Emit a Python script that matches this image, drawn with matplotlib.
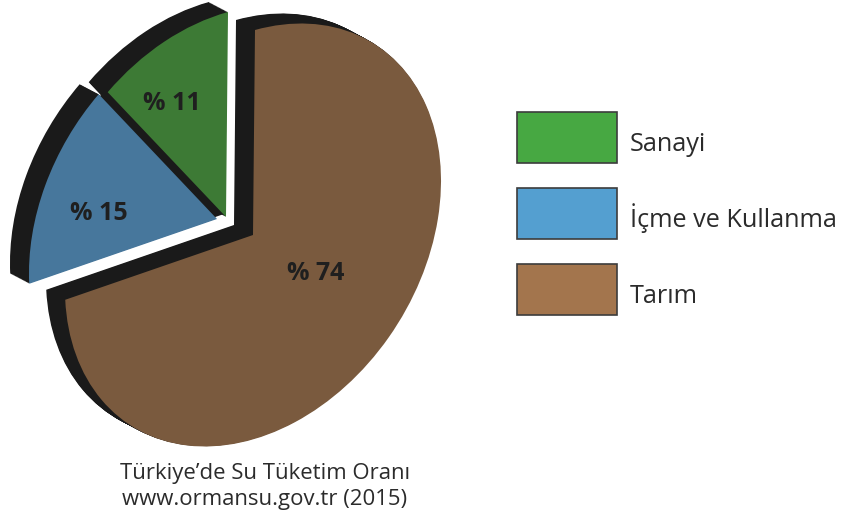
import matplotlib
matplotlib.use("Agg")
import matplotlib.pyplot as plt
from matplotlib.patches import Patch
from matplotlib.transforms import Affine2D

# Data
categories = ["Tarım", "İçme ve Kullanma", "Sanayi"]
values = [74, 15, 11]
legend_order = ["Sanayi", "İçme ve Kullanma", "Tarım"]
caption = ["Türkiye’de Su Tüketim Oranı", "www.ormansu.gov.tr (2015)"]

# Style / layout
slice_colors = {"Tarım": "#7a5a3e", "İçme ve Kullanma": "#47779c", "Sanayi": "#3d7a35"}
legend_colors = {"Tarım": "#a3754d", "İçme ve Kullanma": "#549fd0", "Sanayi": "#47a842"}
vertex = {"Tarım": (253, 235), "İçme ve Kullanma": (217, 219), "Sanayi": (226, 217)}
label_xy = {"Tarım": (316, 274), "İçme ve Kullanma": (99, 214), "Sanayi": (172, 103)}
shear = (188, 2, 52, 205)      # maps the round pie onto the tilted disc
depth = (-19, -10)             # direction of the black rim, in pixels
divider = (7, -5)              # black seam between the blue and green slices
BLACK = "#1a1a1a"
TEXT = "#2b2b2b"
FONT = "Open Sans"

fig = plt.figure(figsize=(8.41, 5.21), dpi=100, facecolor="white")
ax = fig.add_axes([0, 0, 1, 1])


def tilt(cat, dx=0.0, dy=0.0):
    a, b, c, d = shear
    vx, vy = vertex[cat]
    m = [[a, b, vx + dx], [-c, -d, vy + dy], [0, 0, 1]]
    return Affine2D(m) + ax.transData


def draw(colors, dx=0.0, dy=0.0, z=1):
    wedges, _ = ax.pie(values, startangle=90, counterclock=False, colors=colors,
                       wedgeprops=dict(linewidth=0))
    for w, cat in zip(wedges, categories):
        w.set_transform(tilt(cat, dx, dy))
        w.set_zorder(z)
        w.set_antialiased(True)


# Black extruded rim: the same slices swept along the depth direction
steps = 24
for i in range(steps, 0, -1):
    t = i / steps
    draw([BLACK] * len(values), depth[0] * t, depth[1] * t, z=1)
# Seam between blue and green
draw(["none", BLACK, "none"], divider[0], divider[1], z=1)
# Top faces
draw([slice_colors[c] for c in categories], z=2)

ax.set_aspect("auto")
ax.set_xlim(0, 841)
ax.set_ylim(521, 0)
ax.axis("off")

for cat, v in zip(categories, values):
    x, y = label_xy[cat]
    ax.text(x, y, f"% {v}", ha="center", va="center", fontsize=18,
            fontweight="bold", family=FONT, color="#1f1f1f", zorder=3)

for i, line in enumerate(caption):
    ax.text(265, 473 + 26 * i, line, ha="center", va="center", fontsize=15.9,
            family=FONT, color=TEXT, zorder=3)

fs = 18.2
fs_px = fs * 100 / 72
handles = [Patch(facecolor=legend_colors[c], edgecolor="#3c3c3c", linewidth=1.2, label=c)
           for c in legend_order]
leg = ax.legend(handles=handles, loc="upper left", bbox_to_anchor=(517 / 841, 1 - 112 / 521),
                frameon=False, borderpad=0, borderaxespad=0,
                handlelength=100 / fs_px, handleheight=(51 / fs_px - 0.245) / 0.65,
                labelspacing=25 / fs_px, handletextpad=13 / fs_px,
                prop=dict(family=FONT, size=fs))
for t in leg.get_texts():
    t.set_color(TEXT)
    t.set_y(-6)

fig.savefig("out.png", dpi=100, facecolor="white")
